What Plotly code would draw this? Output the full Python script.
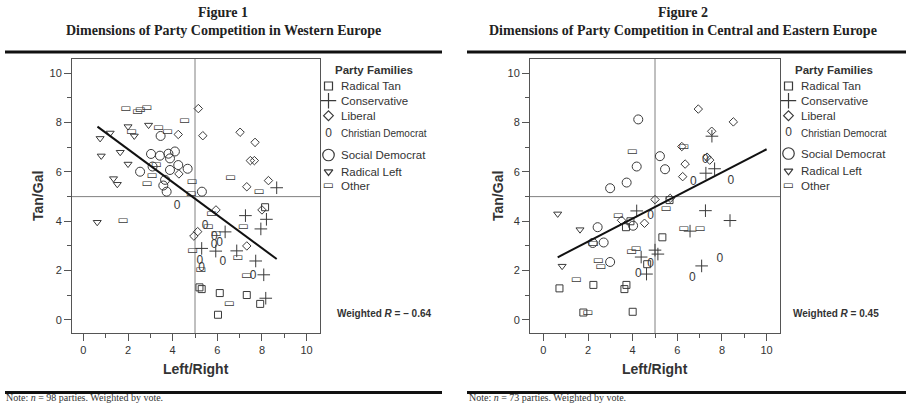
import plotly.graph_objects as go

# ---------------- data ----------------
# Figure 1: Western Europe
tan1_x = [5.2, 5.3, 6.11, 7.32, 7.92, 6.03, 8.14]
tan1_y = [1.32, 1.25, 1.09, 1.01, 0.65, 0.21, 4.57]
cons1_x = [8.66, 7.26, 8.2, 7.95, 6.35, 5.3, 5.93, 6.87, 7.72, 8.08, 8.17]
cons1_y = [5.36, 4.23, 4.08, 3.69, 3.57, 2.9, 2.79, 2.8, 2.39, 1.83, 0.88]
lib1_x = [5.15, 5.35, 4.25, 7.02, 7.69, 7.48, 7.66, 4.28, 8.29, 7.32, 5.94, 8.0, 4.95, 5.12, 7.32]
lib1_y = [8.57, 7.47, 7.52, 7.61, 7.2, 6.46, 6.46, 5.92, 5.65, 5.4, 4.46, 4.46, 3.4, 3.58, 3.0]
cd1_x = [4.2, 5.45, 5.87, 5.85, 6.1, 6.25, 5.22, 5.3, 7.6]
cd1_y = [4.62, 3.8, 3.38, 3.04, 3.1, 2.36, 2.38, 2.12, 1.78]
sd1_x = [2.54, 3.03, 3.46, 3.43, 3.81, 4.1, 3.88, 3.1, 4.25, 3.88, 4.67, 3.66, 3.58, 3.73, 5.31]
sd1_y = [6.01, 6.73, 7.46, 6.66, 6.74, 6.83, 6.55, 6.22, 6.28, 6.08, 6.13, 5.68, 5.45, 5.2, 5.2]
rl1_x = [0.75, 1.2, 2.0, 2.28, 2.92, 0.8, 1.65, 2.0, 1.35, 1.52, 0.62]
rl1_y = [7.36, 7.58, 7.84, 7.46, 7.9, 6.65, 6.8, 6.32, 5.73, 5.5, 3.96]
other1_x = [1.91, 2.43, 2.55, 2.85, 4.54, 3.37, 3.78, 2.16, 3.27, 3.08, 2.86, 4.87, 4.84,
            6.6, 7.87, 1.78, 5.75, 5.6, 7.17, 5.95, 4.9, 5.27, 6.92, 7.32, 6.54]
other1_y = [8.57, 8.45, 8.5, 8.6, 8.08, 7.8, 7.6, 7.64, 6.27, 5.83, 5.5, 5.58, 5.1,
            5.75, 5.17, 4.02, 4.28, 3.76, 3.78, 3.47, 2.8, 2.03, 2.5, 1.78, 0.64]
fit1_x = [0.63, 8.66]
fit1_y = [7.84, 2.47]

# Figure 2: Central and Eastern Europe
tan2_x = [0.72, 2.24, 3.72, 3.63, 1.79, 4.0, 4.65, 5.33, 5.65, 3.9, 3.7]
tan2_y = [1.28, 1.42, 1.42, 1.25, 0.3, 0.33, 2.26, 3.35, 4.86, 4.0, 3.76]
cons2_x = [4.18, 4.38, 4.62, 5.0, 5.13, 6.57, 7.26, 8.36, 7.09, 7.28, 7.67, 7.55]
cons2_y = [4.42, 2.55, 1.86, 2.83, 2.67, 3.6, 4.43, 4.03, 2.19, 5.95, 6.13, 7.45]
lib2_x = [6.94, 8.51, 7.54, 6.2, 6.35, 7.33, 7.45, 6.24, 5.0, 5.68, 3.5, 4.53]
lib2_y = [8.55, 8.03, 7.65, 7.03, 6.32, 6.6, 6.48, 5.81, 4.88, 4.93, 4.04, 3.92]
cd2_x = [4.8, 4.25, 4.8, 6.72, 8.4, 7.9, 6.67, 7.25]
cd2_y = [4.22, 1.85, 2.25, 5.6, 5.63, 2.47, 1.72, 6.5]
sd2_x = [4.25, 5.22, 4.18, 5.45, 3.73, 2.99, 2.43, 2.21, 2.7, 2.99, 4.02]
sd2_y = [8.13, 6.64, 6.22, 6.11, 5.57, 5.34, 3.76, 3.12, 3.14, 2.35, 3.82]
rl2_x = [0.64, 1.64, 0.84]
rl2_y = [4.3, 3.66, 2.18]
other2_x = [3.99, 6.3, 3.36, 5.5, 6.3, 7.02, 3.96, 4.16, 2.46, 2.58, 2.24, 1.48, 1.99]
other2_y = [6.82, 7.03, 4.22, 4.49, 3.7, 3.7, 2.77, 2.88, 2.4, 2.15, 3.08, 1.63, 0.28]
fit2_x = [0.64, 10.0]
fit2_y = [2.54, 6.92]

families = ["Radical Tan", "Conservative", "Liberal", "Christian Democrat",
            "Social Democrat", "Radical Left", "Other"]
tick_vals = [0, 2, 4, 6, 8, 10]
minor_vals = [1, 3, 5, 7, 9]
midpoint = 5

# ---------------- styling ----------------
W, H = 907, 405
INK = "#3a3a3a"
AXC = "#555555"
NARROW = "Liberation Sans Narrow, Arial Narrow, Liberation Sans, Arial, sans-serif"
SERIF = "Liberation Serif, Times New Roman, serif"

def px(x):
    return x / W

def py(y):
    return 1 - y / H

style = {
    "Radical Tan": dict(symbol="square-open", size=7, lsize=8),
    "Conservative": dict(symbol="cross-thin-open", size=9, lsize=11),
    "Liberal": dict(symbol="diamond-open", size=6.5, lsize=7.5),
    "Christian Democrat": dict(glyph="0", size=12, lsize=12, font=NARROW),
    "Social Democrat": dict(symbol="circle-open", size=9, lsize=11.5),
    "Radical Left": dict(symbol="triangle-down-open", size=7, lsize=7.5),
    "Other": dict(glyph="\u25ad", size=12, lsize=12, font="DejaVu Sans"),
}

fig = go.Figure()


def add_series(xs, ys, fam, xa, ya):
    st = style[fam]
    if "glyph" in st:
        fig.add_trace(go.Scatter(
            x=xs, y=ys, mode="text", text=[st["glyph"]] * len(xs),
            textposition="middle center",
            textfont=dict(family=st["font"], size=st["size"], color=INK),
            xaxis=xa, yaxis=ya, cliponaxis=False, hoverinfo="skip", name=fam))
    else:
        fig.add_trace(go.Scatter(
            x=xs, y=ys, mode="markers",
            marker=dict(symbol=st["symbol"], size=st["size"], color=INK,
                        line=dict(color=INK, width=1)),
            xaxis=xa, yaxis=ya, cliponaxis=False, hoverinfo="skip", name=fam))


panels = [
    dict(xa="x", ya="y",
         series=[(tan1_x, tan1_y), (cons1_x, cons1_y), (lib1_x, lib1_y), (cd1_x, cd1_y),
                 (sd1_x, sd1_y), (rl1_x, rl1_y), (other1_x, other1_y)],
         fit=(fit1_x, fit1_y)),
    dict(xa="x2", ya="y2",
         series=[(tan2_x, tan2_y), (cons2_x, cons2_y), (lib2_x, lib2_y), (cd2_x, cd2_y),
                 (sd2_x, sd2_y), (rl2_x, rl2_y), (other2_x, other2_y)],
         fit=(fit2_x, fit2_y)),
]

for p in panels:
    for fam, (xs, ys) in zip(families, p["series"]):
        add_series(xs, ys, fam, p["xa"], p["ya"])
    fig.add_trace(go.Scatter(x=p["fit"][0], y=p["fit"][1], mode="lines",
                             line=dict(color="#111111", width=2),
                             xaxis=p["xa"], yaxis=p["ya"], hoverinfo="skip"))

# ---------------- manual legends (overlay axis in pixel units) ----------------
legend_cfg = [
    dict(mx=328.5, tx=339, rows=[86, 100.7, 115.7, 134, 155, 171.7, 186]),
    dict(mx=788.5, tx=799, rows=[86, 100.7, 115.7, 133, 153.5, 171, 186]),
]
annotations = []
for cfg in legend_cfg:
    for fam, ry in zip(families, cfg["rows"]):
        st = style[fam]
        if "glyph" in st:
            fig.add_trace(go.Scatter(
                x=[cfg["mx"]], y=[ry], mode="text", text=[st["glyph"]],
                textposition="middle center",
                textfont=dict(family=st["font"], size=st["lsize"], color=INK),
                xaxis="x3", yaxis="y3", cliponaxis=False, hoverinfo="skip"))
        else:
            fig.add_trace(go.Scatter(
                x=[cfg["mx"]], y=[ry], mode="markers",
                marker=dict(symbol=st["symbol"], size=st["lsize"], color=INK,
                            line=dict(color=INK, width=1.2)),
                xaxis="x3", yaxis="y3", cliponaxis=False, hoverinfo="skip"))
        annotations.append(dict(
            x=px(cfg["tx"]), y=py(ry), xref="paper", yref="paper",
            text=fam, showarrow=False, xanchor="left", yanchor="middle",
            font=dict(family=NARROW, size=10 if fam == "Christian Democrat" else 11.5,
                      color="#333333")))
    annotations.append(dict(
        x=px(cfg["mx"] + 4), y=py(70), xref="paper", yref="paper",
        text="<b>Party Families</b>", showarrow=False, xanchor="left", yanchor="middle",
        font=dict(family=NARROW, size=11.5, color="#333333")))

annotations.append(dict(x=px(335), y=py(313), xref="paper", yref="paper",
                        text="<b>Weighted <i>R</i> = \u2013 0.64</b>", showarrow=False,
                        xanchor="left", yanchor="middle",
                        font=dict(family=NARROW, size=10, color="#333333")))
annotations.append(dict(x=px(791), y=py(313), xref="paper", yref="paper",
                        text="<b>Weighted <i>R</i> = 0.45</b>", showarrow=False,
                        xanchor="left", yanchor="middle",
                        font=dict(family=NARROW, size=10, color="#333333")))

# titles
for cx, num, region in [(223, "1", "Western Europe"), (683, "2", "Central and Eastern Europe")]:
    annotations.append(dict(x=px(cx), y=py(12), xref="paper", yref="paper",
                            text=f"<b>Figure {num}</b>", showarrow=False,
                            xanchor="center", yanchor="middle",
                            font=dict(family=SERIF, size=14, color="#222222")))
    annotations.append(dict(x=px(cx), y=py(30), xref="paper", yref="paper",
                            text=f"<b>Dimensions of Party Competition in {region}</b>",
                            showarrow=False, xanchor="center", yanchor="middle",
                            font=dict(family=SERIF, size=14, color="#222222")))

# axis titles
for cx, tx in [(196, 38), (655, 498)]:
    annotations.append(dict(x=px(cx), y=py(369), xref="paper", yref="paper",
                            text="<b>Left/Right</b>", showarrow=False,
                            xanchor="center", yanchor="middle",
                            font=dict(family=NARROW, size=14, color="#333333")))
    annotations.append(dict(x=px(tx), y=py(196), xref="paper", yref="paper",
                            text="<b>Tan/Gal</b>", showarrow=False, textangle=-90,
                            xanchor="center", yanchor="middle",
                            font=dict(family=NARROW, size=14, color="#333333")))

# notes
for nx, n in [(4, 98), (467, 73)]:
    annotations.append(dict(x=px(nx), y=py(397.5), xref="paper", yref="paper",
                            text=f"Note: <i>n</i> = {n} parties. Weighted by vote.",
                            showarrow=False, xanchor="left", yanchor="middle",
                            font=dict(family=SERIF, size=10, color="#333333")))

# ---------------- shapes ----------------
shapes = []
for xa, ya in [("x", "y"), ("x2", "y2")]:
    shapes.append(dict(type="line", xref=xa, yref=f"{ya} domain", x0=midpoint, x1=midpoint,
                       y0=0, y1=1, line=dict(color="#808080", width=1), layer="below"))
    shapes.append(dict(type="line", xref=f"{xa} domain", yref=ya, x0=0, x1=1,
                       y0=midpoint, y1=midpoint, line=dict(color="#808080", width=1),
                       layer="below"))
for x0, x1 in [(5, 442), (467, 906)]:
    shapes.append(dict(type="line", xref="paper", yref="paper", x0=px(x0), x1=px(x1),
                       y0=py(52), y1=py(52), line=dict(color="#111111", width=3)))
    shapes.append(dict(type="line", xref="paper", yref="paper", x0=px(x0), x1=px(x1),
                       y0=py(392.5), y1=py(392.5), line=dict(color="#111111", width=3)))


def axis_cfg(domain, rng, anchor):
    return dict(domain=domain, range=rng, anchor=anchor, tickvals=tick_vals,
                ticks="outside", ticklen=7, tickwidth=1, tickcolor=AXC,
                minor=dict(tickvals=minor_vals, ticks="outside", ticklen=4,
                           tickwidth=1, tickcolor=AXC),
                showline=True, mirror=True, linecolor=AXC, linewidth=1,
                showgrid=False, zeroline=False, fixedrange=True,
                tickfont=dict(family=NARROW, size=11, color="#333333"))


fig.update_layout(
    width=W, height=H, margin=dict(l=0, r=0, t=0, b=0),
    paper_bgcolor="white", plot_bgcolor="rgba(0,0,0,0)", showlegend=False,
    hovermode=False,
    xaxis=axis_cfg([px(72), px(320)], [-0.51, 10.6], "y"),
    yaxis=axis_cfg([py(333), py(59)], [-0.53, 10.58], "x"),
    xaxis2=axis_cfg([px(530), px(780)], [-0.6, 10.6], "y2"),
    yaxis2=axis_cfg([py(333), py(59)], [-0.53, 10.58], "x2"),
    xaxis3=dict(domain=[0, 1], range=[0, W], anchor="y3", visible=False, fixedrange=True),
    yaxis3=dict(domain=[0, 1], range=[H, 0], anchor="x3", visible=False, fixedrange=True),
    annotations=annotations, shapes=shapes,
)

fig.write_html("out.html", config={"displayModeBar": False, "staticPlot": True},
               post_script="document.body.style.margin='0';document.body.style.overflow='hidden';")
